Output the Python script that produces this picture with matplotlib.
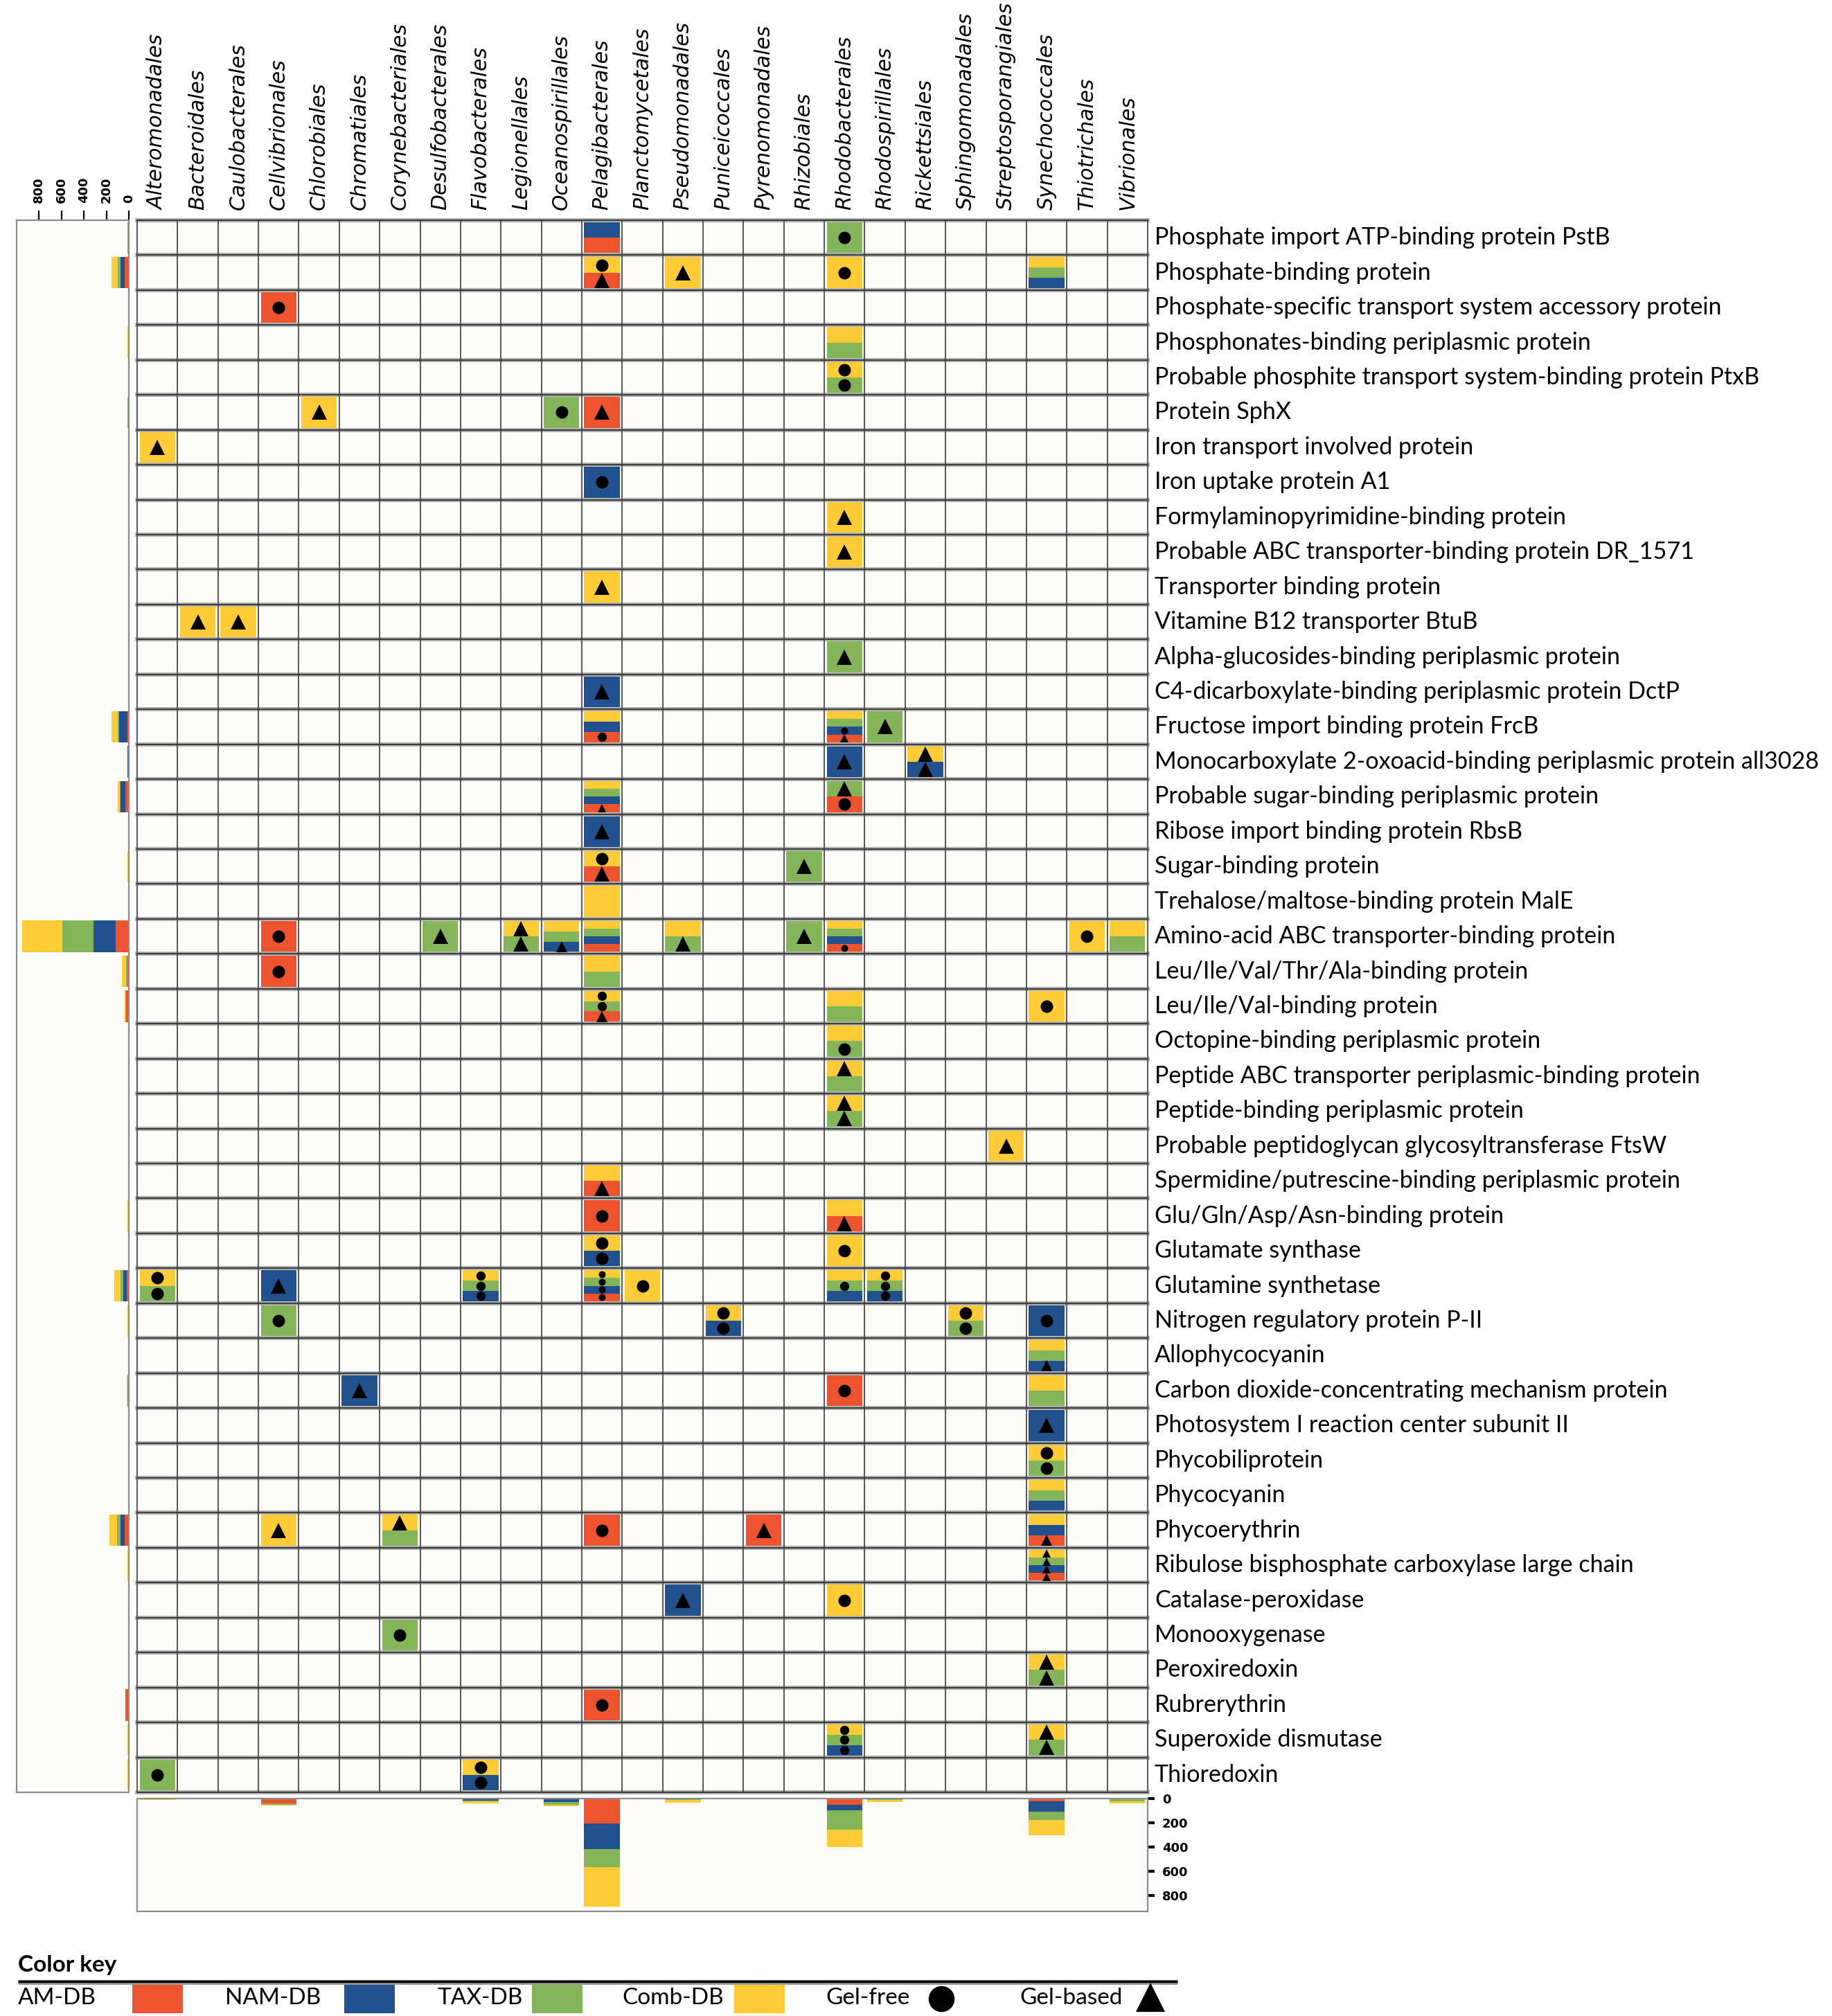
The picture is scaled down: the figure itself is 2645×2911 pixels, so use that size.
import matplotlib
matplotlib.use('Agg')
import matplotlib.pyplot as plt
import numpy as np
from matplotlib.patches import Rectangle

W, H = 2645, 2911

orders = [
    'Alteromonadales', 'Bacteroidales', 'Caulobacterales', 'Cellvibrionales',
    'Chlorobiales', 'Chromatiales', 'Corynebacteriales', 'Desulfobacterales',
    'Flavobacterales', 'Legionellales', 'Oceanospirillales', 'Pelagibacterales',
    'Planctomycetales', 'Pseudomonadales', 'Puniceicoccales', 'Pyrenomonadales',
    'Rhizobiales', 'Rhodobacterales', 'Rhodospirillales', 'Rickettsiales',
    'Sphingomonadales', 'Streptosporangiales', 'Synechococcales', 'Thiotrichales',
    'Vibrionales',
]

proteins = [
    'Phosphate import ATP-binding protein PstB',
    'Phosphate-binding protein',
    'Phosphate-specific transport system accessory protein',
    'Phosphonates-binding periplasmic protein',
    'Probable phosphite transport system-binding protein PtxB',
    'Protein SphX',
    'Iron transport involved protein',
    'Iron uptake protein A1',
    'Formylaminopyrimidine-binding protein',
    'Probable ABC transporter-binding protein DR_1571',
    'Transporter binding protein',
    'Vitamine B12 transporter BtuB',
    'Alpha-glucosides-binding periplasmic protein',
    'C4-dicarboxylate-binding periplasmic protein DctP',
    'Fructose import binding protein FrcB',
    'Monocarboxylate 2-oxoacid-binding periplasmic protein all3028',
    'Probable sugar-binding periplasmic protein',
    'Ribose import binding protein RbsB',
    'Sugar-binding protein',
    'Trehalose/maltose-binding protein MalE',
    'Amino-acid ABC transporter-binding protein',
    'Leu/Ile/Val/Thr/Ala-binding protein',
    'Leu/Ile/Val-binding protein',
    'Octopine-binding periplasmic protein',
    'Peptide ABC transporter periplasmic-binding protein',
    'Peptide-binding periplasmic protein',
    'Probable peptidoglycan glycosyltransferase FtsW',
    'Spermidine/putrescine-binding periplasmic protein',
    'Glu/Gln/Asp/Asn-binding protein',
    'Glutamate synthase',
    'Glutamine synthetase',
    'Nitrogen regulatory protein P-II',
    'Allophycocyanin',
    'Carbon dioxide-concentrating mechanism protein',
    'Photosystem I reaction center subunit II',
    'Phycobiliprotein',
    'Phycocyanin',
    'Phycoerythrin',
    'Ribulose bisphosphate carboxylase large chain',
    'Catalase-peroxidase',
    'Monooxygenase',
    'Peroxiredoxin',
    'Rubrerythrin',
    'Superoxide dismutase',
    'Thioredoxin',
]

# Database colours: R = AM-DB, B = NAM-DB, G = TAX-DB, Y = Comb-DB
db_colors = {'R': '#EE532F', 'B': '#22518F', 'G': '#84B55A', 'Y': '#FFCB37'}

# (protein row, order, bands from top to bottom; o = gel-free, ^ = gel-based)
cells = [
    (0, 'Pelagibacterales', 'B R'),
    (0, 'Rhodobacterales', 'Go'),
    (1, 'Pelagibacterales', 'Yo R^'),
    (1, 'Pseudomonadales', 'Y^'),
    (1, 'Rhodobacterales', 'Yo'),
    (1, 'Synechococcales', 'Y G B'),
    (2, 'Cellvibrionales', 'Ro'),
    (3, 'Rhodobacterales', 'Y G'),
    (4, 'Rhodobacterales', 'Yo Go'),
    (5, 'Chlorobiales', 'Y^'),
    (5, 'Oceanospirillales', 'Go'),
    (5, 'Pelagibacterales', 'R^'),
    (6, 'Alteromonadales', 'Y^'),
    (7, 'Pelagibacterales', 'Bo'),
    (8, 'Rhodobacterales', 'Y^'),
    (9, 'Rhodobacterales', 'Y^'),
    (10, 'Pelagibacterales', 'Y^'),
    (11, 'Bacteroidales', 'Y^'),
    (11, 'Caulobacterales', 'Y^'),
    (12, 'Rhodobacterales', 'G^'),
    (13, 'Pelagibacterales', 'B^'),
    (14, 'Pelagibacterales', 'Y B Ro'),
    (14, 'Rhodobacterales', 'Y G Bo R^'),
    (14, 'Rhodospirillales', 'G^'),
    (15, 'Rhodobacterales', 'B^'),
    (15, 'Rickettsiales', 'Y^ B^'),
    (16, 'Pelagibacterales', 'Y G B R^'),
    (16, 'Rhodobacterales', 'G^ Ro'),
    (17, 'Pelagibacterales', 'B^'),
    (18, 'Pelagibacterales', 'Yo R^'),
    (18, 'Rhizobiales', 'G^'),
    (19, 'Pelagibacterales', 'Y'),
    (20, 'Cellvibrionales', 'Ro'),
    (20, 'Desulfobacterales', 'G^'),
    (20, 'Legionellales', 'Y^ G^'),
    (20, 'Oceanospirillales', 'Y G B^'),
    (20, 'Pelagibacterales', 'Y G B R'),
    (20, 'Pseudomonadales', 'Y G^'),
    (20, 'Rhizobiales', 'G^'),
    (20, 'Rhodobacterales', 'Y G B Ro'),
    (20, 'Thiotrichales', 'Yo'),
    (20, 'Vibrionales', 'Y G'),
    (21, 'Cellvibrionales', 'Ro'),
    (21, 'Pelagibacterales', 'Y G'),
    (22, 'Pelagibacterales', 'Yo Go R^'),
    (22, 'Rhodobacterales', 'Y G'),
    (22, 'Synechococcales', 'Yo'),
    (23, 'Rhodobacterales', 'Y Go'),
    (24, 'Rhodobacterales', 'Y^ G'),
    (25, 'Rhodobacterales', 'Y^ G^'),
    (26, 'Streptosporangiales', 'Y^'),
    (27, 'Pelagibacterales', 'Y R^'),
    (28, 'Pelagibacterales', 'Ro'),
    (28, 'Rhodobacterales', 'Y R^'),
    (29, 'Pelagibacterales', 'Yo Bo'),
    (29, 'Rhodobacterales', 'Yo'),
    (30, 'Alteromonadales', 'Yo Go'),
    (30, 'Cellvibrionales', 'B^'),
    (30, 'Flavobacterales', 'Yo Go Bo'),
    (30, 'Pelagibacterales', 'Yo Go Bo Ro'),
    (30, 'Planctomycetales', 'Yo'),
    (30, 'Rhodobacterales', 'Y Go B'),
    (30, 'Rhodospirillales', 'Yo Go Bo'),
    (31, 'Cellvibrionales', 'Go'),
    (31, 'Puniceicoccales', 'Yo Bo'),
    (31, 'Sphingomonadales', 'Yo Go'),
    (31, 'Synechococcales', 'Bo'),
    (32, 'Synechococcales', 'Y G B^'),
    (33, 'Chromatiales', 'B^'),
    (33, 'Rhodobacterales', 'Ro'),
    (33, 'Synechococcales', 'Y G'),
    (34, 'Synechococcales', 'B^'),
    (35, 'Synechococcales', 'Yo Go'),
    (36, 'Synechococcales', 'Y G B'),
    (37, 'Cellvibrionales', 'Y^'),
    (37, 'Corynebacteriales', 'Y^ G'),
    (37, 'Pelagibacterales', 'Ro'),
    (37, 'Pyrenomonadales', 'R^'),
    (37, 'Synechococcales', 'Y B R^'),
    (38, 'Synechococcales', 'Y^ G^ B^ R^'),
    (39, 'Pseudomonadales', 'B^'),
    (39, 'Rhodobacterales', 'Yo'),
    (40, 'Corynebacteriales', 'Go'),
    (41, 'Synechococcales', 'Y^ G^'),
    (42, 'Pelagibacterales', 'Ro'),
    (43, 'Rhodobacterales', 'Yo Go Bo'),
    (43, 'Synechococcales', 'Y^ G^'),
    (44, 'Alteromonadales', 'Go'),
    (44, 'Flavobacterales', 'Yo Bo'),
]

# totals per protein (left panel), one value per database
row_am = [3, 40, 4, 0, 0, 3, 0, 0, 0, 0, 0, 0, 0, 0, 15, 0, 33, 0, 3, 0,
          117, 10, 25, 0, 0, 0, 0, 4, 6, 0, 20, 0, 0, 3, 0, 0, 0, 40, 3, 0,
          0, 0, 33, 0, 0]
row_nam = [3, 33, 0, 0, 0, 0, 0, 4, 0, 0, 0, 0, 0, 5, 70, 10, 40, 6, 0, 0,
           195, 0, 0, 0, 0, 0, 0, 0, 0, 3, 27, 4, 3, 3, 4, 0, 3, 33, 3, 3,
           0, 0, 0, 3, 3]
row_tax = [6, 27, 0, 5, 4, 8, 0, 0, 0, 0, 0, 0, 4, 0, 15, 0, 5, 0, 2, 0,
           281, 15, 5, 3, 3, 3, 0, 0, 0, 0, 27, 4, 3, 8, 0, 3, 3, 33, 3, 0,
           4, 3, 0, 4, 4]
row_comb = [0, 54, 0, 8, 4, 3, 4, 0, 4, 4, 4, 6, 0, 0, 55, 3, 20, 0, 6, 5,
            354, 35, 10, 4, 4, 4, 4, 5, 8, 5, 54, 4, 3, 3, 0, 3, 3, 67, 3, 3,
            0, 3, 0, 4, 3]

# totals per order (bottom panel), one value per database
col_am = [0, 0, 0, 38, 0, 0, 0, 0, 0, 0, 0, 206, 0, 0, 0, 5, 0, 53, 0, 0,
          0, 0, 25, 0, 0]
col_nam = [0, 0, 0, 3, 0, 5, 0, 0, 19, 0, 27, 213, 0, 4, 3, 0, 0, 42, 4, 3,
           0, 0, 82, 0, 0]
col_tax = [5, 0, 0, 8, 0, 0, 4, 5, 5, 4, 23, 145, 0, 10, 0, 0, 6, 164, 8, 0,
           3, 0, 70, 0, 25]
col_comb = [8, 5, 5, 8, 5, 0, 4, 0, 15, 4, 11, 328, 5, 20, 3, 0, 0, 141, 15, 3,
            3, 5, 128, 5, 15]

legend_items = [('AM-DB', 'R'), ('NAM-DB', 'B'), ('TAX-DB', 'G'), ('Comb-DB', 'Y')]

ROW_PX = (2588 - 318) / len(proteins)
PANEL_BG = '#FDFCF9'
FRAME = '#8c8c8c'


def px_axes(fig, x0, y0, x1, y1):
    """Axes placed by pixel box (top-left origin)."""
    return fig.add_axes([x0 / W, 1 - y1 / H, (x1 - x0) / W, (y1 - y0) / H])


fig = plt.figure(figsize=(W / 100, H / 100), dpi=100)
fig.patch.set_facecolor('white')

# ---- main grid -------------------------------------------------------------
ax = px_axes(fig, 198, 318, 1657, 2588)
ax.set_xlim(0, len(orders))
ax.set_ylim(len(proteins), 0)
ax.axis('off')
ax.add_patch(Rectangle((0, 0), len(orders), len(proteins), facecolor=PANEL_BG,
                       edgecolor='none', zorder=0))
for y in range(len(proteins) + 1):
    ax.axhline(y, color='#b9b9b9', lw=4.5, zorder=1, clip_on=False)
    ax.axhline(y, color='#3f3f3f', lw=1.7, zorder=1.1, clip_on=False)
for x in range(len(orders) + 1):
    ax.axvline(x, color='#555555', lw=1.4, zorder=1, clip_on=False)

for row, order, spec in cells:
    col = orders.index(order)
    bands = spec.split()
    h = 0.88 / len(bands)
    for k, band in enumerate(bands):
        y0 = row + 0.06 + k * h
        ax.bar(col + 0.5, h, bottom=y0, width=0.88, color=db_colors[band[0]],
               linewidth=0, zorder=2)
        if len(band) > 1:
            band_px = h * ROW_PX
            if band[1] == 'o':
                ms = min(18, 0.9 * band_px) * 0.72
            else:
                ms = min(22, 1.05 * band_px) * 0.72
            ax.plot(col + 0.5, y0 + h / 2, marker=band[1], color='black',
                    ms=ms, mew=0, zorder=3)

for i, name in enumerate(orders):
    ax.text(i + 0.5, -0.3, name, rotation=90, ha='center', va='bottom',
            style='italic', fontsize=21.5, family='DejaVu Sans')
for i, name in enumerate(proteins):
    ax.text(len(orders) + 0.17, i + 0.5, name, ha='left', va='center',
            fontsize=24.6, family='Lato')

# ---- left panel: totals per protein ----------------------------------------
axl = px_axes(fig, 24, 318, 186, 2588)
axl.set_facecolor(PANEL_BG)
axl.set_xlim(997, 0)
axl.set_ylim(len(proteins), 0)
ypos = np.arange(len(proteins)) + 0.5
left = np.zeros(len(proteins))
for vals, code in [(row_am, 'R'), (row_nam, 'B'), (row_tax, 'G'), (row_comb, 'Y')]:
    axl.barh(ypos, vals, left=left, height=0.9, color=db_colors[code], linewidth=0)
    left += np.array(vals)
axl.xaxis.tick_top()
axl.set_xticks([0, 200, 400, 600, 800])
axl.set_yticks([])
axl.tick_params(axis='x', length=10, width=1.6, pad=8, labelsize=13, labelrotation=90)
for lab in axl.get_xticklabels():
    lab.set_fontweight('bold')
for sp in axl.spines.values():
    sp.set_color(FRAME)
    sp.set_linewidth(1.6)

# ---- bottom panel: totals per order ----------------------------------------
axb = px_axes(fig, 198, 2597, 1657, 2760)
axb.set_facecolor(PANEL_BG)
axb.set_xlim(0, len(orders))
axb.set_ylim(931, 0)
xpos = np.arange(len(orders)) + 0.5
bottom = np.zeros(len(orders))
for vals, code in [(col_am, 'R'), (col_nam, 'B'), (col_tax, 'G'), (col_comb, 'Y')]:
    axb.bar(xpos, vals, bottom=bottom, width=0.88, color=db_colors[code], linewidth=0)
    bottom += np.array(vals)
axb.yaxis.tick_right()
axb.set_yticks([0, 200, 400, 600, 800])
axb.set_xticks([])
axb.tick_params(axis='y', length=7, width=3, pad=8, labelsize=13)
for lab in axb.get_yticklabels():
    lab.set_fontweight('bold')
for sp in axb.spines.values():
    sp.set_color(FRAME)
    sp.set_linewidth(1.6)

# ---- colour key ------------------------------------------------------------
axk = px_axes(fig, 0, 2790, W, H)
axk.set_xlim(0, W)
axk.set_ylim(H, 2790)
axk.axis('off')
axk.text(26, 2838, 'Color key', fontsize=24, fontweight='bold', family='Lato',
         va='center', ha='left')
axk.plot([26, 1700], [2862, 2862], color='#9a9a9a', lw=5, solid_capstyle='butt')
axk.plot([26, 1700], [2861, 2861], color='black', lw=2.5, solid_capstyle='butt')
key_text_x = [26, 325, 631, 898]
key_box_x = [191, 497, 768, 1060]
for (label, code), tx, bx in zip(legend_items, key_text_x, key_box_x):
    axk.text(tx, 2885, label, fontsize=24, family='Lato', va='center', ha='left')
    axk.add_patch(Rectangle((bx, 2865), 73, 42, facecolor=db_colors[code],
                            edgecolor='none'))
axk.text(1192, 2885, 'Gel-free', fontsize=24, family='Lato', va='center', ha='left')
axk.plot(1359, 2886, marker='o', color='black', ms=27, mew=0)
axk.text(1472, 2885, 'Gel-based', fontsize=24, family='Lato', va='center', ha='left')
axk.plot(1661, 2884, marker='^', color='black', ms=30, mew=0)

fig.savefig('out.png', dpi=100)
